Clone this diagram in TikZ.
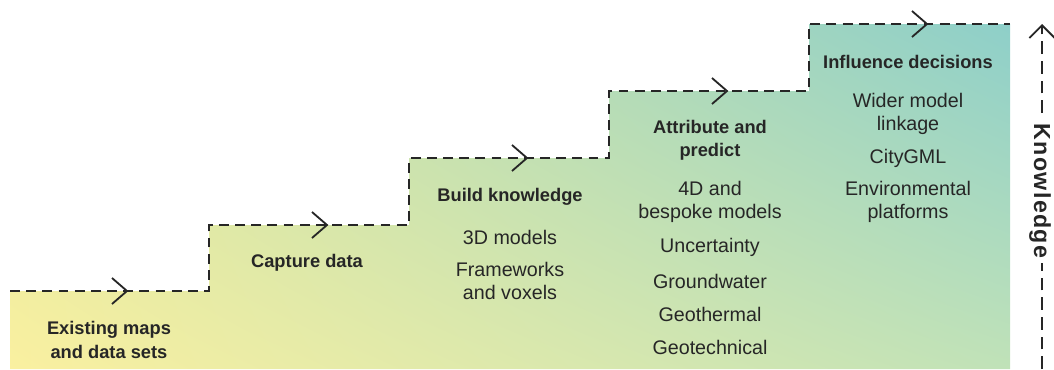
\documentclass[tikz,border=0pt]{standalone}
\usepackage{fontspec}
\setmainfont{Liberation Sans}
\usepackage{tikz}
\usetikzlibrary{arrows.meta,shadings}

\definecolor{ink}{HTML}{262626}
\definecolor{lowleft}{HTML}{FAF0A0}
\definecolor{lowright}{HTML}{C0E2B8}
\definecolor{upleft}{HTML}{DCE8A0}
\definecolor{upright}{HTML}{8ECFC9}

\begin{document}
\begin{tikzpicture}[x=0.025cm, y=-0.025cm,
        stair/.style={ink, line width=1.4pt, dash pattern=on 7pt off 4.5pt},
        chevron/.style={ink, line width=1.3pt, solid, line join=miter},
        head/.style={text=ink, align=center, font=\bfseries\fontsize{13}{16.5}\selectfont},
        item/.style={text=ink, align=center, font=\fontsize{14}{16.5}\selectfont}]
        \useasboundingbox (0,0) rectangle (1054,369);
        \coordinate (S0) at (10,291);
        \coordinate (S1) at (209,291);
        \coordinate (S2) at (209,225);
        \coordinate (S3) at (409,225);
        \coordinate (S4) at (409,158);
        \coordinate (S5) at (609,158);
        \coordinate (S6) at (609,91);
        \coordinate (S7) at (809,91);
        \coordinate (S8) at (809,24);
        \coordinate (S9) at (1010,24);

        %Stairs
        \shade[lower left=lowleft, lower right=lowright, upper left=upleft, upper right=upright]
            (10,369) -- (S0) -- (S1) -- (S2) -- (S3) -- (S4) -- (S5) -- (S6) -- (S7) -- (S8) -- (S9) -- (1010,369) -- cycle;
        \draw[stair] (S0) -- (S1) -- (S2) -- (S3) -- (S4) -- (S5) -- (S6) -- (S7) -- (S8) -- (S9);
        \foreach \x/\y in {127/291, 327/225, 527/158, 727/91, 927/24}{
            \draw[chevron] (\x-15,\y-13) -- (\x,\y) -- (\x-15,\y+13);
        }

        %Knowledge axis
        \coordinate (K0) at (1042,369);
        \coordinate (K1) at (1042,24);
        \draw[stair, dash pattern=on 9pt off 5pt, -{Straight Barb[length=9pt, width=18pt, line width=1.3pt]}] (K0) -- (K1);
        \node[text=ink, font=\bfseries\fontsize{16.5}{18}\selectfont\addfontfeatures{LetterSpace=6}, rotate=-90, fill=white, inner sep=3pt] (know) at (1040,191) {Knowledge};

        %Steps
        \node[head] (maps) at (109,340) {Existing maps\\and data sets};
        \node[head] (capture) at (307,263) {Capture data};
        \node[head] (build) at (510,197) {Build knowledge};
        \node[item] (models) at (510,237) {3D models};
        \node[item] (frames) at (510,281) {Frameworks\\and voxels};
        \node[head] (attr) at (710,140) {Attribute and\\predict};
        \node[item] (fourd) at (710,202) {4D and\\bespoke models};
        \node[item] (uncert) at (710,247) {Uncertainty};
        \node[item] (ground) at (710,281) {Groundwater};
        \node[item] (thermal) at (710,314) {Geothermal};
        \node[item] (tech) at (710,347) {Geotechnical};
        \node[head] (infl) at (908,62) {Influence decisions};
        \node[item] (wider) at (908,114) {Wider model\\linkage};
        \node[item] (city) at (908,158) {CityGML};
        \node[item] (env) at (908,202) {Environmental\\platforms};
    \end{tikzpicture}
\end{document}
